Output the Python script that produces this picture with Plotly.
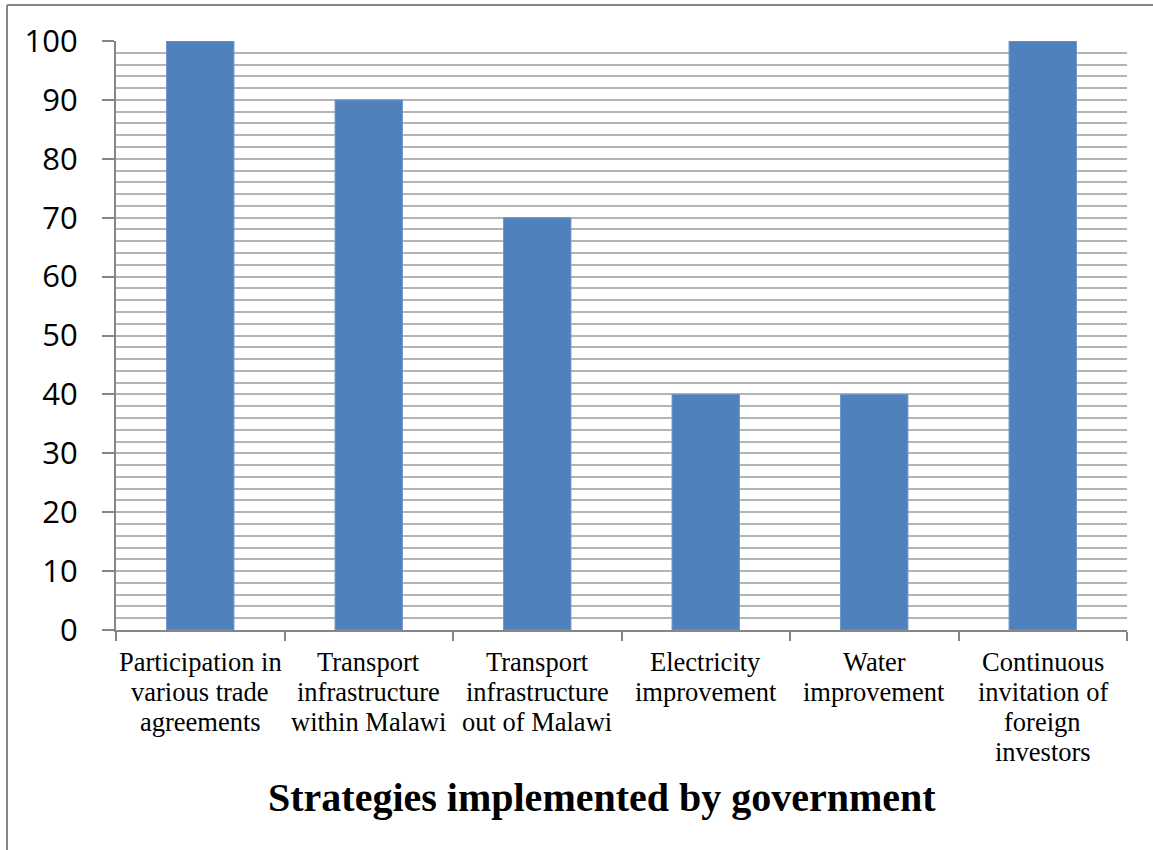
import plotly.graph_objects as go

categories = [
    "Participation in<br>various trade<br>agreements",
    "Transport<br>infrastructure<br>within Malawi",
    "Transport<br>infrastructure<br>out of Malawi",
    "Electricity<br>improvement",
    "Water<br>improvement",
    "Continuous<br>invitation of<br>foreign<br>investors",
]
values = [100, 90, 70, 40, 40, 100]
y_ticks = [0, 10, 20, 30, 40, 50, 60, 70, 80, 90, 100]
x_title = "Strategies implemented by government"

W, H = 1153, 850
L, R, T, B = 116, 1127, 41, 630

fig = go.Figure()
fig.add_trace(go.Bar(
    x=categories, y=values, width=0.4,
    marker=dict(color="#4F81BD", line=dict(color="#6F97CB", width=1)),
))

def px2x(px):
    return (px - L) / (R - L)

def px2y(py):
    return (B - py) / (B - T)

# category labels drawn line by line (tighter line spacing like the reference)
annotations = []
for cat in categories:
    for i, line in enumerate(cat.split("<br>")):
        annotations.append(dict(
            text=line, x=cat, xref="x", y=px2y(662 + 30 * i), yref="paper",
            showarrow=False, xanchor="center", yanchor="middle",
            font=dict(family="Liberation Serif", size=26.5, color="black"),
        ))
annotations.append(dict(
    text="<b>" + x_title + "</b>", x=px2x(602), y=px2y(797),
    xref="paper", yref="paper", showarrow=False,
    xanchor="center", yanchor="middle",
    font=dict(family="Liberation Serif", size=40, color="black"),
))

fig.update_layout(
    width=W, height=H,
    margin=dict(l=L, r=W - R, t=T, b=H - B),
    plot_bgcolor="white", paper_bgcolor="white",
    showlegend=False,
    xaxis=dict(
        tickson="boundaries", ticks="outside", ticklen=9, tickcolor="#868686", tickwidth=2,
        showline=True, linecolor="#868686", linewidth=2,
        showgrid=False, showticklabels=False,
    ),
    yaxis=dict(
        range=[0, 100], tickvals=y_ticks, ticks="outside", ticklen=12,
        tickcolor="#868686", tickwidth=2,
        showline=True, linecolor="#868686", linewidth=2,
        showgrid=True, gridcolor="#B4B4B4", gridwidth=2,
        minor=dict(dtick=2, showgrid=True, gridcolor="#B4B4B4", gridwidth=2),
        tickfont=dict(family="Open Sans", size=31, color="black"),
        ticklabelstandoff=18,
        zeroline=False,
    ),
    annotations=annotations,
    shapes=[
        dict(type="line", xref="paper", yref="paper",
             x0=px2x(7), x1=px2x(1153), y0=px2y(5), y1=px2y(5),
             line=dict(color="#868686", width=2)),
        dict(type="line", xref="paper", yref="paper",
             x0=px2x(7), x1=px2x(7), y0=px2y(5), y1=px2y(850),
             line=dict(color="#868686", width=2)),
    ],
)

fig.write_html("out.html", config={"displayModeBar": False},
               post_script="document.body.style.margin='0';")
